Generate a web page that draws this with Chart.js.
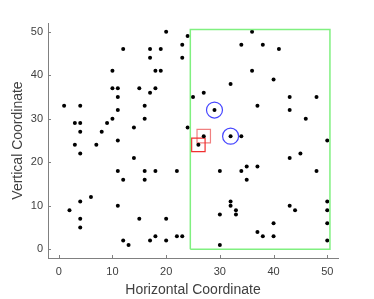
<!DOCTYPE html>
<html lang="en">
  <head>
    <meta charset="UTF-8">
    <title>Coordinates</title>
    <script src="https://cdn.jsdelivr.net/npm/chart.js"></script>
    <style>
      html, body { margin: 0; padding: 0; background: #fff; }
      #wrap { width: 374px; height: 299px; }
    </style>
  </head>
  <body>
    <div id="wrap"><canvas id="myChart" width="374" height="299"></canvas></div>
    <script>
      // scattered points
      const xs = [1,3,4,4,4,8,9,10,10,10,11,11,11,11,12,14,15,16,16,17,17,17,18,18,19,19,20,23,23,24,24,
        3,7,4,14,11,12,16,16,18,22,6,4,2,11,4,4,15,20,12,13,17,18,20,22,23,
        36,34,38,41,36,40,32,27,25,43,48,29,37,43,46,27,32,34,50,26,43,45,30,34,35,37,35,48,
        32,32,33,33,30,43,44,50,50,50,50,40,37,38,40,30];
      const ys = [33,29,29,33,27,27,29,30,41,37,37,35,32,25,46,28,37,33,30,36,44,46,41,37,41,46,50,47,44,49,28,
        24,24,22,21,18,16,18,16,18,18,12,11,9,10,7,5,7,7,2,1,2,3,2,3,3,
        50,47,47,46,41,39,38,36,35,35,35,32,33,32,30,26,26,26,25,24,21,22,18,18,19,19,16,18,
        11,10,9,8,8,10,9,11,9,6,2,6,4,3,3,1];

      // highlighted points
      const circleX = [29, 32];
      const circleY = [32, 26];
      const squareX = [27, 26];
      const squareY = [26, 24];

      // green region
      const regionX = [24.5, 50.5, 50.5, 24.5, 24.5];
      const regionY = [0, 0, 50.5, 50.5, 0];

      const xTicks = [0, 10, 20, 30, 40, 50];
      const yTicks = [0, 10, 20, 30, 40, 50];

      const pts = (a, b) => a.map((v, i) => ({ x: v, y: b[i] }));

      const axisGray = '#808080';
      const labelGray = '#404040';

      // MATLAB style inward ticks
      const innerTicks = {
        id: 'innerTicks',
        afterDraw(chart) {
          const { ctx, chartArea, scales } = chart;
          ctx.save();
          ctx.strokeStyle = axisGray;
          ctx.lineWidth = 1;
          ctx.beginPath();
          xTicks.forEach(v => {
            const px = Math.round(scales.x.getPixelForValue(v)) + 0.5;
            ctx.moveTo(px, chartArea.bottom);
            ctx.lineTo(px, chartArea.bottom - 3);
          });
          yTicks.forEach(v => {
            const py = Math.round(scales.y.getPixelForValue(v)) + 0.5;
            ctx.moveTo(chartArea.left, py);
            ctx.lineTo(chartArea.left + 3, py);
          });
          ctx.stroke();
          ctx.restore();
        }
      };

      const ctx = document.getElementById('myChart').getContext('2d');
      const myChart = new Chart(ctx, {
        type: 'scatter',
        data: {
          datasets: [
            {
              data: pts(regionX, regionY),
              showLine: true,
              borderColor: '#80f080',
              borderWidth: 1.5,
              pointRadius: 0,
              fill: false
            },
            {
              data: pts(xs, ys),
              backgroundColor: '#000',
              borderColor: '#000',
              pointRadius: 2,
              borderWidth: 0
            },
            {
              data: pts(circleX, circleY),
              pointStyle: 'circle',
              pointRadius: 8,
              backgroundColor: 'rgba(0,0,0,0)',
              borderColor: '#4646ff',
              borderWidth: 1.2
            },
            {
              data: pts(squareX, squareY),
              pointStyle: 'rect',
              pointRadius: 9.5,
              backgroundColor: 'rgba(0,0,0,0)',
              borderColor: ['#f08080', '#f03030'],
              borderWidth: 1.2
            }
          ]
        },
        options: {
          responsive: false,
          animation: false,
          layout: { padding: { left: 0, top: 23, right: 36, bottom: 0 } },
          plugins: { legend: { display: false }, tooltip: { enabled: false } },
          scales: {
            x: {
              type: 'linear',
              min: -2,
              max: 52,
              afterBuildTicks: s => { s.ticks = xTicks.map(v => ({ value: v })); },
              afterFit: s => { s.height = 41; },
              grid: { display: false, drawTicks: false },
              border: { display: true, color: axisGray, width: 1 },
              ticks: { padding: 7, color: labelGray, font: { family: 'Liberation Sans', size: 11 } },
              title: {
                display: true,
                text: 'Horizontal Coordinate',
                color: labelGray,
                padding: { top: 0, bottom: 0 },
                font: { family: 'Liberation Sans', size: 14 }
              }
            },
            y: {
              type: 'linear',
              min: -2,
              max: 52,
              afterBuildTicks: s => { s.ticks = yTicks.map(v => ({ value: v })); },
              afterFit: s => { s.width = 48; },
              grid: { display: false, drawTicks: false },
              border: { display: true, color: axisGray, width: 1 },
              ticks: { padding: 5, color: labelGray, font: { family: 'Liberation Sans', size: 11 } },
              title: {
                display: true,
                text: 'Vertical Coordinate',
                color: labelGray,
                padding: { top: 10, bottom: 0 },
                font: { family: 'Liberation Sans', size: 14 }
              }
            }
          }
        },
        plugins: [innerTicks]
      });
    </script>
  </body>
</html>
